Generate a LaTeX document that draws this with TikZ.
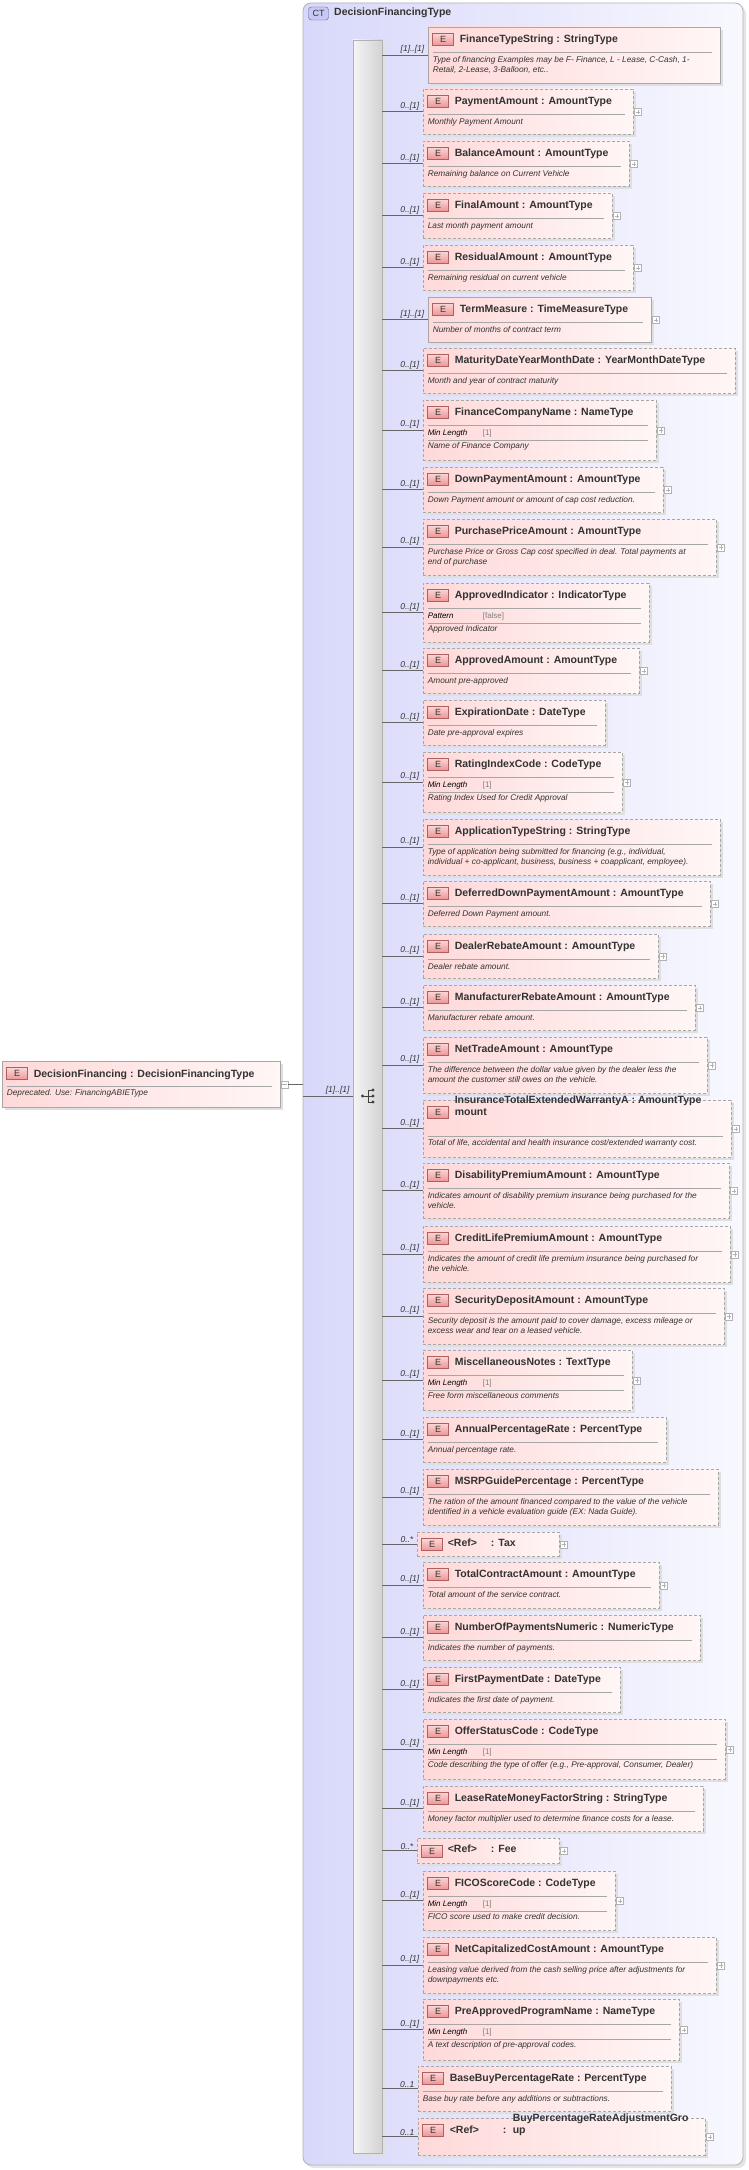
\documentclass[tikz,border=0pt]{standalone}
\usepackage{fontspec}
\setmainfont{Liberation Sans}
\usetikzlibrary{calc,fit}
\definecolor{bordc}{HTML}{A8A8A8}
\definecolor{txtc}{HTML}{333333}
\definecolor{pinkL}{HTML}{FFD9D9}
\definecolor{pinkR}{HTML}{FFF6F6}
\definecolor{lavL}{HTML}{D8D8FA}
\definecolor{lavR}{HTML}{F8F8FF}
\tikzset{
 boxbase/.style={inner sep=0pt, draw=bordc, left color=pinkL, right color=pinkR, line width=0.8pt},
 solidbox/.style={boxbase},
 dashbox/.style={boxbase, dash pattern=on 3pt off 2pt},
 badge/.style={draw={rgb,255:red,175;green,95;blue,95}, top color={rgb,255:red,250;green,215;blue,215}, bottom color={rgb,255:red,238;green,150;blue,150}, minimum width=21pt, minimum height=12pt, inner sep=0pt, font=\fontsize{9}{9}\selectfont, text=txtc},
 titletext/.style={anchor=base west, inner sep=0pt, font=\fontsize{10.5}{12.5}\selectfont\bfseries, text=txtc, align=left},
 desctext/.style={anchor=north west, inner sep=0pt, font=\fontsize{8.3}{10}\selectfont\itshape, text=txtc, align=left},
 sepline/.style={draw=gray!70, line width=0.6pt},
 conn/.style={draw=gray!80!black, line width=0.6pt},
 mult/.style={anchor=south east, inner sep=1pt, xshift=-2pt, font=\fontsize{8.5}{9}\selectfont\itshape, text=txtc},
 plusbox/.style={draw=gray!60, fill=white, minimum size=7pt, inner sep=0pt},
 shadowc/.style={fill=gray!25},
}
\newcommand\xEl[7]{%
 \fill[shadowc] (#2+3,#4+3) rectangle (#3+3,#5+3);
 \node[#6, fit={(#2,#4)(#3,#5)}] (#1) {};
 \node[badge] at ($(#1.north west)+(15.5,12.5)$) {E};
 \node[titletext] at ($(#1.north west)+(32,16)$) {#7};}
\newcommand\xSep[2]{\draw[sepline] ($(#1.north west)+(5,#2)$) -- ($(#1.north east)+(-8,#2)$);}
\newcommand\xDesc[3]{\node[desctext] at ($(#1.north west)+(5,#2)$) {#3};}
\newcommand\xFacet[4]{\node[anchor=west, inner sep=0pt, font=\fontsize{8}{9}\selectfont\itshape, text=black] at ($(#1.north west)+(5,#2)$) {#3};
 \node[anchor=west, inner sep=0pt, font=\fontsize{8}{9}\selectfont, text=gray] at ($(#1.north west)+(60,#2)$) {#4};}
\newcommand\xPlus[1]{\node[plusbox] (#1p) at ($(#1.east)+(4.5,0.5)$) {};
 \draw[gray!60, line width=0.5pt] ($(#1p.center)+(-2.2,0)$) -- ($(#1p.center)+(2.2,0)$) ($(#1p.center)+(0,-2.2)$) -- ($(#1p.center)+(0,2.2)$);}
\newcommand\xMult[2]{\draw[conn] (seq.east |- #1.west) -- (#1.west) node[mult, pos=1] {#2};}
\newcommand\xSimple[9]{\xEl{#1}{#2}{#3}{#4}{#5}{#6}{#7}\xSep{#1}{26}\xDesc{#1}{29.5}{#9}\xMult{#1}{#8}}
\newcommand\xFac[9]{\xEl{#1}{#2}{#3}{#4}{#5}{dashbox}{#6}\xSep{#1}{26}\xFacet{#1}{33.5}{#7}{#8}\xSep{#1}{40.5}\xDesc{#1}{43}{#9}\xMult{#1}{0..[1]}}
\begin{document}
\begin{tikzpicture}[x=1pt,y=-1pt]
\useasboundingbox (0,0) rectangle (748,2170);
\fill[gray!20, rounded corners=8pt] (306,6) rectangle (746,2168);
\node[fit={(303,3)(743,2165)}, inner sep=0pt, rounded corners=8pt, draw=gray!60, line width=0.8pt, left color=lavL, right color=lavR] (ct) {};
\node[draw=gray!70!blue, rounded corners=3pt, fill={rgb,255:red,200;green,200;blue,245}, minimum width=20pt, minimum height=13pt, inner sep=0pt, font=\fontsize{9}{9}\selectfont, text=txtc] (ctb) at (318.5,13.5) {CT};
\node[titletext, anchor=west] (ctt) at (334,13) {DecisionFinancingType};
\fill[gray!25] (356,43) rectangle (385,2156);
\node[fit={(353,40)(382,2153)}, inner sep=0pt, draw=gray!60, left color=gray!8, right color=gray!35] (seq) {};
\fill[black!75] (362.5,1096) circle (1.6);
\draw[black!75, line width=0.7pt] (362.5,1096) -- (368,1096) (368,1090) -- (368,1102) (368,1090) -- (372,1090) (368,1096) -- (372,1096) (368,1102) -- (372,1102);
\fill[black!75] (373,1090) circle (1.6) (373,1096) circle (1.6) (373,1102) circle (1.6);
\fill[shadowc] (5,1064) rectangle (283,1110);
\node[solidbox, fit={(2,1061)(280,1107)}] (root) {};
\node[badge] at ($(root.north west)+(15.5,13)$) {E};
\node[titletext] at ($(root.north west)+(32,16.5)$) {DecisionFinancing : DecisionFinancingType};
\xSep{root}{26}
\xDesc{root}{29}{Deprecated. Use: FinancingABIEType}
\node[plusbox] (rootm) at (284.5,1084.5) {};
\draw[gray!60, line width=0.5pt] ($(rootm.center)+(-2.2,0)$) -- ($(rootm.center)+(2.2,0)$);
\draw[conn] (rootm.east) -- (ct.west |- rootm.east);
\coordinate (ctin) at (303,1096);
\draw[conn] (ctin) -- (seq.west |- ctin) node[mult, pos=1] {[1]..[1]};
\xEl{e1}{428}{720}{27}{83}{solidbox}{FinanceTypeString : StringType}\xSep{e1}{26}
\xDesc{e1}{29.5}{Type of financing Examples may be F- Finance, L - Lease, C-Cash, 1-\\Retail, 2-Lease, 3-Balloon, etc..}\xMult{e1}{[1]..[1]}
\xSimple{e2}{423}{633}{89}{134}{dashbox}{PaymentAmount : AmountType}{0..[1]}{Monthly Payment Amount}\xPlus{e2}
\xSimple{e3}{423}{629}{141}{186}{dashbox}{BalanceAmount : AmountType}{0..[1]}{Remaining balance on Current Vehicle}\xPlus{e3}
\xSimple{e4}{423}{612}{193}{238}{dashbox}{FinalAmount : AmountType}{0..[1]}{Last month payment amount}\xPlus{e4}
\xSimple{e5}{423}{633}{245}{290}{dashbox}{ResidualAmount : AmountType}{0..[1]}{Remaining residual on current vehicle}\xPlus{e5}
\xSimple{e6}{428}{651}{297}{342}{solidbox}{TermMeasure : TimeMeasureType}{[1]..[1]}{Number of months of contract term}\xPlus{e6}
\xSimple{e7}{423}{735}{348}{393}{dashbox}{MaturityDateYearMonthDate : YearMonthDateType}{0..[1]}{Month and year of contract maturity}
\xFac{e8}{423}{656}{400}{460}{FinanceCompanyName : NameType}{Min Length}{[1]}{Name of Finance Company}\xPlus{e8}
\xSimple{e9}{423}{663}{467}{512}{dashbox}{DownPaymentAmount : AmountType}{0..[1]}{Down Payment amount or amount of cap cost reduction.}\xPlus{e9}
\xSimple{e10}{423}{716}{519}{575}{dashbox}{PurchasePriceAmount : AmountType}{0..[1]}{Purchase Price or Gross Cap cost specified in deal. Total payments at\\end of purchase}\xPlus{e10}
\xFac{e11}{423}{649}{583}{642}{ApprovedIndicator : IndicatorType}{Pattern}{[false]}{Approved Indicator}
\xSimple{e12}{423}{639}{648}{693}{dashbox}{ApprovedAmount : AmountType}{0..[1]}{Amount pre-approved}\xPlus{e12}
\xSimple{e13}{423}{605}{700}{745}{dashbox}{ExpirationDate : DateType}{0..[1]}{Date pre-approval expires}
\xFac{e14}{423}{622}{752}{812}{RatingIndexCode : CodeType}{Min Length}{[1]}{Rating Index Used for Credit Approval}\xPlus{e14}
\xSimple{e15}{423}{720}{819}{875}{dashbox}{ApplicationTypeString : StringType}{0..[1]}{Type of application being submitted for financing (e.g., individual,\\individual + co-applicant, business, business + coapplicant, employee).}
\xSimple{e16}{423}{710}{881}{926}{dashbox}{DeferredDownPaymentAmount : AmountType}{0..[1]}{Deferred Down Payment amount.}\xPlus{e16}
\xSimple{e17}{423}{658}{934}{978}{dashbox}{DealerRebateAmount : AmountType}{0..[1]}{Dealer rebate amount.}\xPlus{e17}
\xSimple{e18}{423}{695}{985}{1030}{dashbox}{ManufacturerRebateAmount : AmountType}{0..[1]}{Manufacturer rebate amount.}\xPlus{e18}
\xSimple{e19}{423}{707}{1037}{1093}{dashbox}{NetTradeAmount : AmountType}{0..[1]}{The difference between the dollar value given by the dealer less the\\amount the customer still owes on the vehicle.}\xPlus{e19}
\xEl{e20}{423}{731}{1100}{1157}{dashbox}{InsuranceTotalExtendedWarrantyA : AmountType\\mount}\xSep{e20}{37}
\xDesc{e20}{40}{Total of life, accidental and health insurance cost/extended warranty cost.}\xMult{e20}{0..[1]}\xPlus{e20}
\xSimple{e21}{423}{729}{1163}{1218}{dashbox}{DisabilityPremiumAmount : AmountType}{0..[1]}{Indicates amount of disability premium insurance being purchased for the\\vehicle.}\xPlus{e21}
\xSimple{e22}{423}{730}{1226}{1282}{dashbox}{CreditLifePremiumAmount : AmountType}{0..[1]}{Indicates the amount of credit life premium insurance being purchased for\\the vehicle.}\xPlus{e22}
\xSimple{e23}{423}{724}{1288}{1344}{dashbox}{SecurityDepositAmount : AmountType}{0..[1]}{Security deposit is the amount paid to cover damage, excess mileage or\\excess wear and tear on a leased vehicle.}\xPlus{e23}
\xFac{e24}{423}{632}{1350}{1410}{MiscellaneousNotes : TextType}{Min Length}{[1]}{Free form miscellaneous comments}\xPlus{e24}
\xSimple{e25}{423}{666}{1417}{1462}{dashbox}{AnnualPercentageRate : PercentType}{0..[1]}{Annual percentage rate.}
\xSimple{e26}{423}{718}{1469}{1525}{dashbox}{MSRPGuidePercentage : PercentType}{0..[1]}{The ration of the amount financed compared to the value of the vehicle\\identified in a vehicle evaluation guide (EX: Nada Guide).}
\fill[shadowc] (420,1535) rectangle (562,1559);
\node[dashbox, fit={(417,1532)(559,1556)}] (e27) {};
\node[badge] at ($(e27.north west)+(15.5,13)$) {E};
\node[titletext] at ($(e27.north west)+(31,15)$) {<Ref>\hspace{14pt}: Tax};
\xMult{e27}{0..*}\xPlus{e27}
\xSimple{e28}{423}{659}{1562}{1608}{dashbox}{TotalContractAmount : AmountType}{0..[1]}{Total amount of the service contract.}\xPlus{e28}
\xSimple{e29}{423}{700}{1615}{1660}{dashbox}{NumberOfPaymentsNumeric : NumericType}{0..[1]}{Indicates the number of payments.}
\xSimple{e30}{423}{620}{1667}{1712}{dashbox}{FirstPaymentDate : DateType}{0..[1]}{Indicates the first date of payment.}
\xFac{e31}{423}{725}{1719}{1779}{OfferStatusCode : CodeType}{Min Length}{[1]}{Code describing the type of offer (e.g., Pre-approval, Consumer, Dealer)}\xPlus{e31}
\xSimple{e32}{423}{703}{1786}{1831}{dashbox}{LeaseRateMoneyFactorString : StringType}{0..[1]}{Money factor multiplier used to determine finance costs for a lease.}
\fill[shadowc] (420,1841) rectangle (562,1866);
\node[dashbox, fit={(417,1838)(559,1863)}] (e33) {};
\node[badge] at ($(e33.north west)+(15.5,13.5)$) {E};
\node[titletext] at ($(e33.north west)+(31,15)$) {<Ref>\hspace{14pt}: Fee};
\xMult{e33}{0..*}\xPlus{e33}
\xFac{e34}{423}{615}{1871}{1930}{FICOScoreCode : CodeType}{Min Length}{[1]}{FICO score used to make credit decision.}\xPlus{e34}
\xSimple{e35}{423}{716}{1937}{1993}{dashbox}{NetCapitalizedCostAmount : AmountType}{0..[1]}{Leasing value derived from the cash selling price after adjustments for\\downpayments etc.}\xPlus{e35}
\xFac{e36}{423}{679}{1999}{2060}{PreApprovedProgramName : NameType}{Min Length}{[1]}{A text description of pre-approval codes.}\xPlus{e36}
\xSimple{e37}{418}{671}{2066}{2111}{dashbox}{BaseBuyPercentageRate : PercentType}{0..1}{Base buy rate before any additions or subtractions.}
\fill[shadowc] (421,2121) rectangle (708,2158);
\node[dashbox, fit={(418,2118)(705,2155)}] (e38) {};
\node[badge] at ($(e38.north west)+(15.5,12.5)$) {E};
\node[titletext] at ($(e38.north west)+(32,16)$) {<Ref>};
\node[titletext] at ($(e38.north west)+(85,16)$) {:};
\node[titletext] at ($(e38.north west)+(95,16)$) {BuyPercentageRateAdjustmentGro\\up};
\xMult{e38}{0..1}\xPlus{e38}
\end{tikzpicture}
\end{document}
